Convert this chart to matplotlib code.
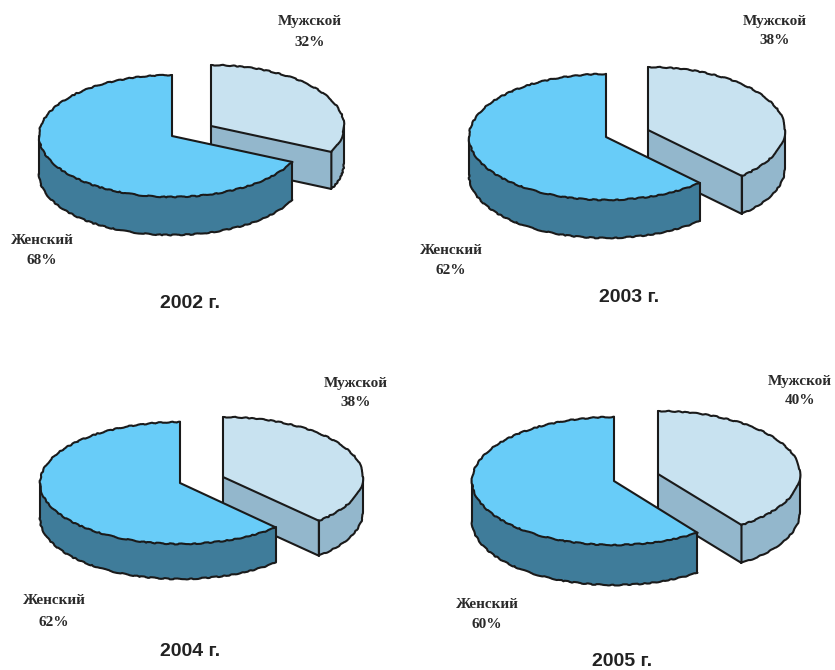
import matplotlib
matplotlib.use('Agg')
import matplotlib.pyplot as plt
from matplotlib.patches import Polygon
import numpy as np

years = ['2002 г.', '2003 г.', '2004 г.', '2005 г.']
male_share = [32, 38, 38, 40]
female_share = [68, 62, 62, 60]
male_name = 'Мужской'
female_name = 'Женский'

# pie geometry in pixels: centre x, centre y, radii, thickness
male_geom = [(211, 126, 133, 61, 37), (648, 130, 137, 63, 38),
             (223, 477, 140, 60, 35), (658, 474, 142, 63, 38)]
female_geom = [(172, 136, 133, 61, 38), (606, 137, 137, 63, 38),
               (180, 483, 140, 61, 35), (614, 481, 142, 64, 40)]

male_label_xy = [(310, 22, 42), (775, 21, 41), (356, 383, 403), (800, 381, 401)]
female_label_xy = [(42, 240, 260), (451, 250, 270), (54, 601, 622), (487, 605, 625)]
title_xy = [(190, 304), (629, 297), (190, 651), (622, 661)]

MALE_TOP, MALE_SIDE = '#c8e2f0', '#93b7cc'
FEMALE_TOP, FEMALE_SIDE = '#68ccf8', '#3f7c9a'
EDGE = '#1a1a1a'


def rim(geom, a0, a1, n=60):
    # points on the ellipse, angle measured clockwise from 12 o'clock
    cx, cy, rx, ry, _ = geom
    t = np.radians(np.linspace(a0, a1, n))
    return np.column_stack([cx + rx * np.sin(t), cy - ry * np.cos(t)])


def fill(ax, pts, color):
    ax.add_patch(Polygon(pts, closed=True, facecolor=color, edgecolor='none'))


def edge(ax, pts, wavy=False):
    # zorder equal to the fills, so later slices cover earlier outlines
    line, = ax.plot(pts[:, 0], pts[:, 1], color=EDGE, linewidth=1.5, zorder=1,
                    solid_joinstyle='round', solid_capstyle='round')
    # curved edges are slightly scalloped, straight ones stay clean
    if wavy:
        line.set_sketch_params(scale=0.5, length=16, randomness=6)


def slab(ax, geom, a0, a1, top, side):
    cx, cy, _, _, d = geom
    centre = np.array([[cx, cy]])
    down = np.array([0, d])
    arc = rim(geom, a0, a1)
    # outer wall only where the rim faces the viewer (90..270 degrees)
    w0, w1 = max(a0, 90), min(a1, 270)
    wall = rim(geom, w0, w1)
    fill(ax, np.vstack([wall, wall[::-1] + down]), side)
    edge(ax, wall + down, wavy=True)
    edge(ax, np.vstack([wall[0], wall[0] + down]))
    edge(ax, np.vstack([wall[-1], wall[-1] + down]))
    # the closing cut is the only flat face turned towards the viewer
    if a1 < 270:
        end = rim(geom, a1, a1, 1)
        fill(ax, np.vstack([centre, end, end + down, centre + down]), side)
        edge(ax, np.vstack([centre, centre + down, end + down, end]))
    fill(ax, np.vstack([centre, arc]), top)
    edge(ax, arc, wavy=True)
    edge(ax, np.vstack([arc[0], centre, arc[-1]]))


fig = plt.figure(figsize=(8.35, 6.70), dpi=100)
ax = fig.add_axes([0, 0, 1, 1])
ax.axis('off')

label_style = dict(family='Liberation Serif', weight='bold', fontsize=11,
                   color='#2a2a2a', ha='center', va='center')

for i in range(len(years)):
    male_end = 360 * male_share[i] / 100
    female_end = male_end + 360 * female_share[i] / 100
    slab(ax, male_geom[i], 0, male_end, MALE_TOP, MALE_SIDE)
    slab(ax, female_geom[i], male_end, female_end, FEMALE_TOP, FEMALE_SIDE)

    x, y0, y1 = male_label_xy[i]
    ax.text(x, y0, male_name, **label_style)
    ax.text(x, y1, f'{male_share[i]}%', **label_style)
    x, y0, y1 = female_label_xy[i]
    ax.text(x, y0, female_name, **label_style)
    ax.text(x, y1, f'{female_share[i]}%', **label_style)
    ax.text(title_xy[i][0], title_xy[i][1], years[i], family='Liberation Sans', weight='bold',
            fontsize=14, color='#222222', ha='center', va='center')

ax.set_xlim(0, 835)
ax.set_ylim(670, 0)
fig.savefig('out.png', dpi=100, facecolor='white')
